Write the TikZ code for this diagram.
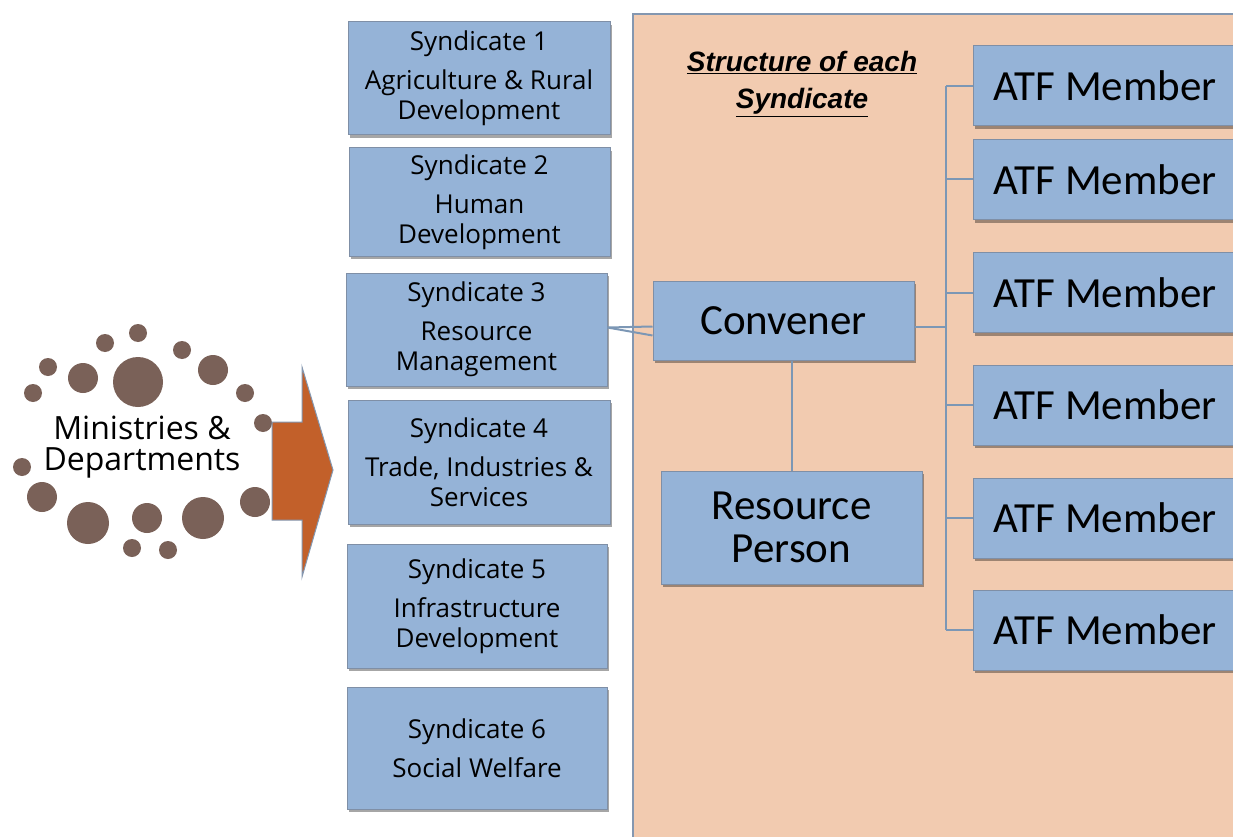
\documentclass[tikz,border=0pt]{standalone}
\usepackage{fontspec}
\setmainfont{Open Sans}
\newfontfamily\calfont{Carlito}
\newfontfamily\headfont{Liberation Sans}
\usetikzlibrary{shadows}
\definecolor{boxfill}{HTML}{95B3D7}
\definecolor{boxline}{HTML}{7F8FA6}
\definecolor{peach}{HTML}{F2CBB0}
\definecolor{panelline}{HTML}{8497B0}
\definecolor{dotcol}{HTML}{7A6158}
\definecolor{arrowcol}{HTML}{C2602A}
\definecolor{linkcol}{HTML}{7C97B5}
\tikzset{
  sbox/.style={draw=boxline, line width=1pt, fill=boxfill, align=center, inner sep=0pt,
    drop shadow={shadow xshift=2pt, shadow yshift=-3pt, fill=black, opacity=0.35},
    font=\fontsize{26}{30}\selectfont},
  bigbox/.style={sbox, font=\calfont\fontsize{43}{43}\selectfont},
  link/.style={draw=linkcol, line width=2pt},
  dot/.style={fill=dotcol},
}
\begin{document}
\begin{tikzpicture}[x=1pt,y=-1pt]
\useasboundingbox (0,0) rectangle (1233,837);
\clip (0,0) rectangle (1233,837);
\fill[white] (0,0) rectangle (1233,837);
% panel
\draw[fill=peach, draw=panelline, line width=2pt] (633,14) rectangle (1250,850);
\node[font=\headfont\bfseries\itshape\fontsize{28}{37}\selectfont, align=center] (head) at (802,84)
  {\underline{Structure of each}\\\underline{Syndicate}};
% dots
\foreach \x/\y/\r in {138/333/9,105/343/9,182/350/9,48/367/9,83/378/15,138/382/25,213/370/15,
  33/393/9,245/393/9,263/423/9,22/467/9,42/497/15,88/523/21,147/518/15,203/518/21,255/502/15,
  132/548/9,168/550/9}{
  \fill[dot] (\x,\y) circle[radius=\r];
}
\node[font=\fontsize{32}{31}\selectfont, align=center] (min) at (142,447) {Ministries \&\\Departments};
% arrow
\draw[fill=arrowcol, draw=panelline, line width=1pt] (272,422) -- (302,422) -- (302,367) -- (333,470)
  -- (302,577) -- (302,520) -- (272,520) -- cycle;
% syndicates
\node[sbox, minimum width=262pt, minimum height=113pt] (s1) at (479,78.5)
  {Syndicate 1\\[9pt]Agriculture \& Rural\\Development};
\node[sbox, minimum width=261pt, minimum height=108pt] (s2) at (479.5,202)
  {Syndicate 2\\[9pt]Human\\Development};
\node[sbox, minimum width=261pt, minimum height=113pt] (s3) at (476.5,329.5)
  {Syndicate 3\\[9pt]Resource\\Management};
\node[sbox, minimum width=262pt, minimum height=124pt] (s4) at (479,462)
  {Syndicate 4\\[9pt]Trade, Industries \&\\Services};
\node[sbox, minimum width=260pt, minimum height=124pt] (s5) at (477,606)
  {Syndicate 5\\[9pt]Infrastructure\\Development};
\node[sbox, minimum width=260pt, minimum height=122pt] (s6) at (477,748)
  {Syndicate 6\\[9pt]Social Welfare};
% structure
\node[bigbox, minimum width=261pt, minimum height=79pt] (conv) at (783.5,320.5) {Convener};
\node[bigbox, minimum width=261pt, minimum height=113pt] (rp) at (791.5,527.5) {Resource\\Person};
\foreach \i/\y in {1/86,2/179.5,3/292.5,4/405,5/518,6/630}{
  \node[bigbox, minimum width=264pt, minimum height=80pt] (atf\i) at (1105,\y) {ATF Member};
}
\coordinate (spine) at (946,86);
\draw[link] (spine) -- (spine |- atf6.west);
\foreach \i in {1,...,6}{ \draw[link] (atf\i.west) -- (atf\i.west -| spine); }
\draw[link] ([yshift=-6pt]conv.east) -- ([yshift=-6pt]conv.east -| spine);
\draw[link] (rp.north) -- (rp.north |- conv.south);
\draw[link] ([yshift=2pt]s3.east) -- ([yshift=-6pt]conv.west);
\draw[link] ([yshift=2pt]s3.east) -- ([yshift=-15pt]conv.west);
\end{tikzpicture}
\end{document}
